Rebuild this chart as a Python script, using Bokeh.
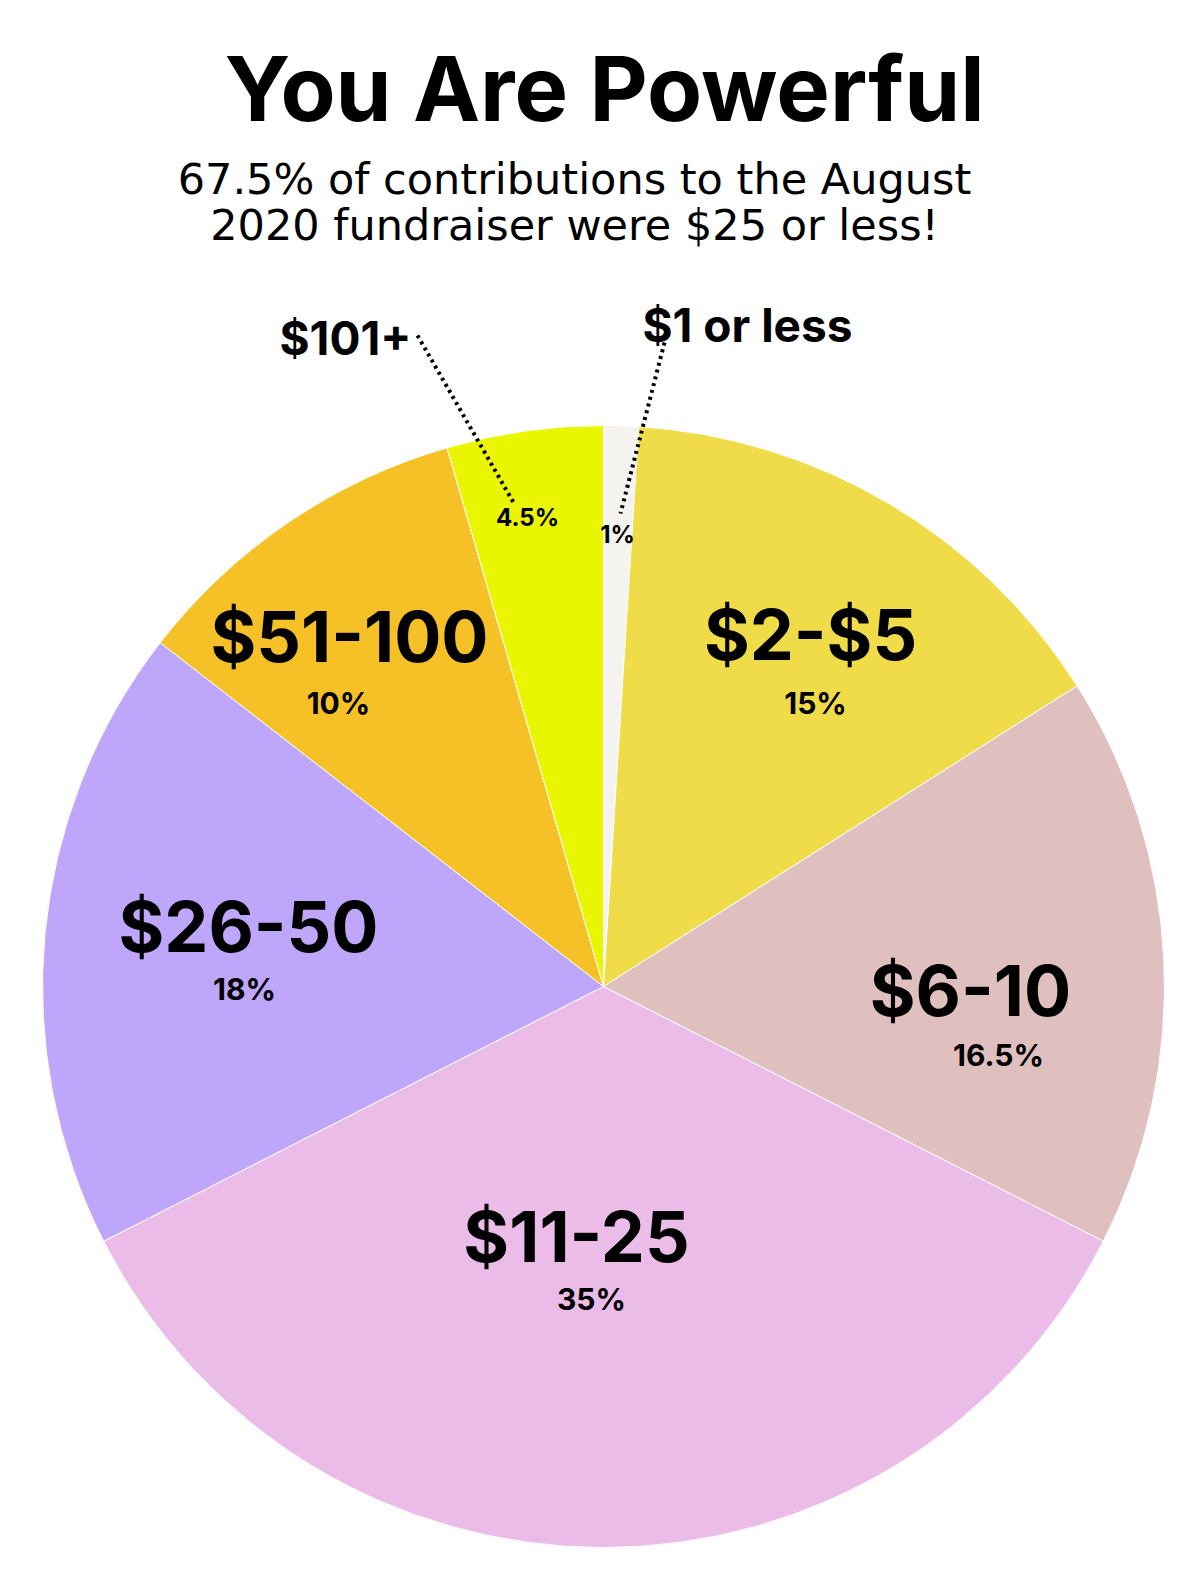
import numpy as np
from bokeh.plotting import figure
from bokeh.models import Range1d, ColumnDataSource
from bokeh.core.properties import value
from bokeh.embed import file_html
from bokeh.resources import INLINE

# ---- data ----
categories = ["$1 or less", "$2-$5", "$6-10", "$11-25", "$26-50", "$51-100", "$101+"]
shares = [1, 15, 16.5, 35, 18, 10, 4.5]
pct_labels = ["1%", "15%", "16.5%", "35%", "18%", "10%", "4.5%"]
colors = ["#f5f3ef", "#f0dc48", "#e0bfbf", "#ecbce8", "#bea6fa", "#f5c126", "#eaf500"]

title_text = "You Are Powerful"
subtitle_lines = ["67.5% of contributions to the August", "2020 fundraiser were $25 or less!"]

# ---- layout (page pixel coordinates) ----
W, H = 1184, 1560
PAGE_H = 1580
K = 0.4  # baseline correction factor (fraction of font size)

def Y(py):
    return PAGE_H - py

def TY(py, fs):
    return PAGE_H - (py - K * fs)

cx, cy, R = 603, 986, 561
FONT = "Inter"

p = figure(width=W, height=H, output_backend="svg", toolbar_location=None,
           x_range=Range1d(0, W), y_range=Range1d(PAGE_H - H, PAGE_H),
           min_border=0, outline_line_color=None)
p.axis.visible = False
p.grid.visible = False
p.background_fill_color = "white"
p.border_fill_color = "white"

frac = np.array(shares, dtype=float) / float(np.sum(shares))
cum = np.concatenate([[0.0], np.cumsum(frac)])
start = np.pi / 2 - 2 * np.pi * cum[:-1]
end = np.pi / 2 - 2 * np.pi * cum[1:]
src = ColumnDataSource(dict(x=[cx] * len(shares), y=[Y(cy)] * len(shares),
                            start=start, end=end, color=colors, cat=categories))
p.wedge(x="x", y="y", radius=R, start_angle="start", end_angle="end",
        direction="clock", fill_color="color", line_color="white", line_width=1,
        source=src)

def txt(x, py, s, fs, font=FONT, bold=True):
    p.text(x=[x], y=[TY(py, fs)], text=[s], text_align="center", text_baseline="alphabetic",
           text_font=value(font), text_font_style="bold" if bold else "normal",
           text_font_size=f"{fs}px", text_color="black")

# big category labels inside slices: (center x, baseline y)
big_pos = {
    "$2-$5": (810, 662),
    "$6-10": (970, 1018),
    "$11-25": (576, 1264),
    "$26-50": (248, 954),
    "$51-100": (349, 664),
}
pct_pos = {
    "$2-$5": (815, 714),
    "$6-10": (998, 1066),
    "$11-25": (591, 1310),
    "$26-50": (244, 1000),
    "$51-100": (338, 714),
}
for i, cat in enumerate(categories):
    if cat in big_pos:
        bx, by = big_pos[cat]
        txt(bx, by, cat, 70)
        px_, py_ = pct_pos[cat]
        txt(px_, py_, pct_labels[i], 30)

# small slices: external labels with dotted leaders
outer = {
    "$101+": dict(lab=(345, 356), pct=(527, 527), line=((417, 335), (513, 502))),
    "$1 or less": dict(lab=(747, 343), pct=(617, 544), line=((664, 342), (620, 513))),
}
for i, cat in enumerate(categories):
    if cat in outer:
        o = outer[cat]
        (x0, y0), (x1, y1) = o["line"]
        p.line(x=[x0, x1], y=[Y(y0), Y(y1)], line_color="black", line_width=4,
               line_dash="3 4", line_cap="butt")
        txt(o["lab"][0], o["lab"][1], cat, 46)
        txt(o["pct"][0], o["pct"][1], pct_labels[i], 24)

# title and subtitle
txt(604, 124, title_text, 90)
for k, line in enumerate(subtitle_lines):
    txt(574, 196 + 46 * k, line, 43, font="DejaVu Sans", bold=False)

open("out.html", "w").write(file_html(p, INLINE))
